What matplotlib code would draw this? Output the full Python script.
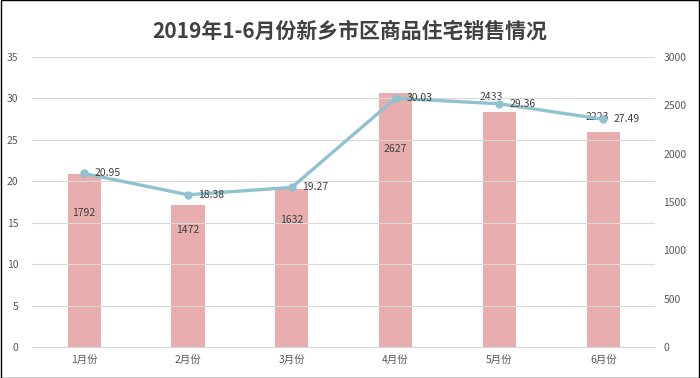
import matplotlib
matplotlib.use("Agg")
from matplotlib import pyplot as plt
import numpy as np

plt.rcParams['font.family'] = ['Noto Sans CJK SC', 'DejaVu Sans']

months = ['1月份', '2月份', '3月份', '4月份', '5月份', '6月份']
sales = [1792, 1472, 1632, 2627, 2433, 2223]
area = [20.95, 18.38, 19.27, 30.03, 29.36, 27.49]
# offsets (points) of the bar labels from bar top
bar_lab_dx = [0, 0, 0, 0, -6, -4]
bar_lab_dy = [-28, -18, -22, -40, 11, 11]

fig = plt.figure(figsize=(7, 3.78), dpi=100)
ax = fig.add_axes([0.046, 0.082, 0.89, 0.767])
ax2 = ax.twinx()

x = np.arange(len(months))
ax2.bar(x, sales, width=0.32, color='#E8AEAE', zorder=1)
for xi, v, dx, dy in zip(x, sales, bar_lab_dx, bar_lab_dy):
    ax2.annotate(str(v), (xi, v), xytext=(dx, dy), textcoords='offset points',
                 ha='center', va='center', fontsize=7.5, color='#404040')

ax.set_zorder(ax2.get_zorder() + 1)
ax.patch.set_visible(False)
ax.plot(x, area, color='#90C2CF', lw=2.4, marker='o', ms=5, zorder=3)
for xi, v in zip(x, area):
    ax.annotate(f'{v:.2f}', (xi, v), xytext=(17, 0), textcoords='offset points',
                ha='center', va='center', fontsize=7.5, color='#404040')

ax.set_ylim(0, 35)
ax.set_yticks(range(0, 36, 5))
ax2.set_ylim(0, 3000)
ax2.set_yticks(range(0, 3001, 500))
ax.set_xlim(-0.5, 5.5)
ax.set_xticks(x)
ax.set_xticklabels(months)
ax.grid(axis='y', color='#D9D9D9', lw=0.8)
ax.set_axisbelow(True)

for a in (ax, ax2):
    for s in a.spines.values():
        s.set_visible(False)
    a.tick_params(length=0, labelsize=7.5, colors='#595959')
ax.spines['bottom'].set_visible(True)
ax.spines['bottom'].set_color('#D9D9D9')
ax.tick_params(axis='y', pad=10)
ax2.tick_params(axis='y', pad=6)
ax.tick_params(axis='x', pad=6)

fig.text(0.5, 0.918, '2019年1-6月份新乡市区商品住宅销售情况', ha='center', va='center',
         fontsize=15, fontweight='bold', color='#404040')

fig.patches.append(plt.Rectangle((0.001, 0.001), 0.998, 0.998, transform=fig.transFigure,
                                 fill=False, edgecolor='#000000', lw=1))

fig.savefig('out.png', dpi=100)
